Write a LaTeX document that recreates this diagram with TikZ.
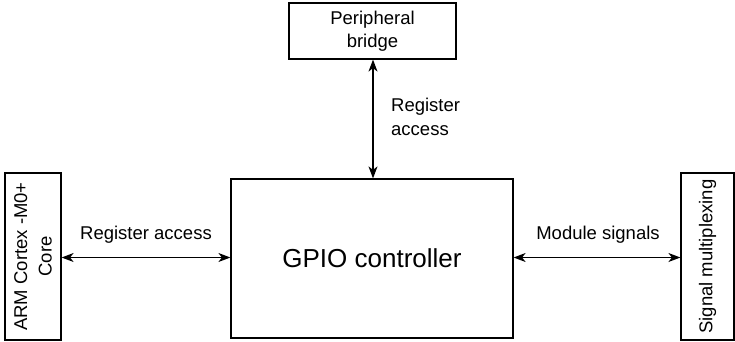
\documentclass[tikz,border=0pt]{standalone}
\usepackage{fontspec}
\setmainfont{Liberation Sans}
\usetikzlibrary{arrows.meta}
\begin{document}
\begin{tikzpicture}[x=1pt,y=1pt,
  blk/.style={draw, line width=1.2pt, inner sep=0pt, anchor=center},
  lbl/.style={font=\fontsize{18.5}{24.5}\selectfont, align=center, inner sep=0pt},
  conn/.style={line width=1.2pt, {Stealth[length=12pt,width=9pt,inset=3.5pt]}-{Stealth[length=12pt,width=9pt,inset=3.5pt]}}]
\useasboundingbox (0,0) rectangle (735,341);
\node[blk, minimum width=56pt, minimum height=167pt] (core) at (33,84.5) {};
\node[lbl, rotate=90] at (core.center) {ARM Cortex -M0+\\Core};
\node[blk, minimum width=282pt, minimum height=159pt] (gpio) at (372,82.5) {};
\node[lbl, font=\fontsize{26}{30}\selectfont] at (gpio.center) {GPIO controller};
\node[blk, minimum width=53pt, minimum height=167pt] (mux) at (707.5,84.5) {};
\node[lbl, rotate=90] at (mux.center) {Signal multiplexing};
\node[blk, minimum width=167pt, minimum height=56pt] (bridge) at (372.5,310) {};
\node[lbl, font=\fontsize{18.5}{23}\selectfont] at (bridge.center) {Peripheral\\bridge};
\coordinate (ga) at (gpio.west |- 0,83.5);
\coordinate (gb) at (gpio.east |- 0,83.5);
\draw[conn] (core.east |- ga) -- (ga);
\draw[conn] (gb) -- (mux.west |- gb);
\draw[conn] (bridge.south -| 373,0) -- (gpio.north -| 373,0);
\node[lbl, anchor=base] (la) at (146,102) {Register access};
\node[lbl, anchor=base] (lb) at (598,102) {Module signals};
\node[lbl, anchor=west, align=left] (lc) at (391,224) {Register\\access};
\end{tikzpicture}
\end{document}
